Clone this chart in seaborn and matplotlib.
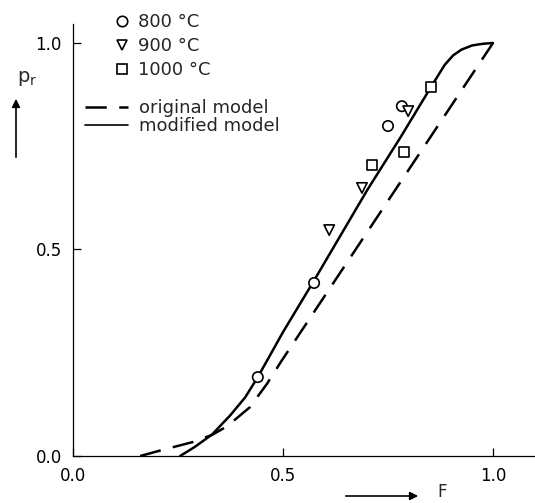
import matplotlib
matplotlib.use("Agg")
import matplotlib.pyplot as plt
from matplotlib.lines import Line2D
from matplotlib.patches import FancyArrowPatch
import pandas as pd
import seaborn as sns

# Measured fraction of pores removed (p_r) against filling fraction F
F_800 = [0.440, 0.574, 0.750, 0.783]
p_800 = [0.191, 0.419, 0.799, 0.847]
F_900 = [0.610, 0.688, 0.798]
p_900 = [0.547, 0.649, 0.835]
F_1000 = [0.712, 0.788, 0.852]
p_1000 = [0.705, 0.736, 0.893]

# Model curves
F_modified = [0.255, 0.290, 0.331, 0.374, 0.410, 0.440, 0.500, 0.574,
              0.700, 0.780, 0.852, 0.885, 0.905, 0.925, 0.950, 0.975, 1.000]
p_modified = [0.000, 0.022, 0.052, 0.098, 0.142, 0.191, 0.300, 0.425,
              0.643, 0.772, 0.893, 0.947, 0.970, 0.984, 0.994, 0.998, 1.000]
F_original = [0.160, 0.214, 0.286, 0.331, 0.367, 0.421, 0.462, 0.495,
              0.529, 1.000]
p_original = [0.000, 0.015, 0.034, 0.051, 0.072, 0.118, 0.175, 0.228,
              0.280, 1.000]

temperatures = ["800 °C", "900 °C", "1000 °C"]
markers = {"800 °C": "o", "900 °C": "v", "1000 °C": "s"}
models = ["original model", "modified model"]
x_ticks = [0.0, 0.5, 1.0]
y_ticks = [0.0, 0.5, 1.0]

sns.set_style("ticks")
plt.rcParams["font.family"] = ["DejaVu Sans"]

points = pd.DataFrame({
    "F": F_800 + F_900 + F_1000,
    "p": p_800 + p_900 + p_1000,
    "T": [temperatures[0]] * len(F_800) + [temperatures[1]] * len(F_900)
         + [temperatures[2]] * len(F_1000),
})

W, H = 535, 503
fig = plt.figure(figsize=(W / 100, H / 100), dpi=100)
ax = fig.add_axes([73 / W, 47 / H, 462 / W, 432 / H])

dash = (0, (8.5, 5))
sns.lineplot(x=F_original, y=p_original, ax=ax, sort=False, estimator=None,
             color="black", linewidth=1.8, linestyle=dash, zorder=2)
sns.lineplot(x=F_modified, y=p_modified, ax=ax, sort=False, estimator=None,
             color="black", linewidth=1.8, zorder=2)
sns.scatterplot(data=points, x="F", y="p", style="T", markers=markers,
                style_order=temperatures, ax=ax, s=56, color="white",
                edgecolor="black", linewidth=1.2, legend=False, zorder=3)

ax.set_xlim(0, 1.1)
ax.set_ylim(0, 1.046)
ax.set_xticks(x_ticks)
ax.set_yticks(y_ticks)
ax.set_xticklabels([f"{v:.1f}" for v in x_ticks])
ax.set_yticklabels([f"{v:.1f}" for v in y_ticks])
ax.tick_params(direction="in", length=6, width=0.9, pad=8, labelsize=12,
               colors="black")
ax.set_xlabel("")
ax.set_ylabel("")
sns.despine(ax=ax)
for side in ("left", "bottom"):
    ax.spines[side].set_linewidth(0.9)
    ax.spines[side].set_color("black")

# Legends: temperatures, then models
mk = dict(ls="none", mfc="white", mec="black", ms=7.5, mew=1.2)
temp_handles = [Line2D([], [], marker=markers[t], **mk) for t in temperatures]
leg1 = ax.legend(temp_handles, temperatures, loc="upper left",
                 bbox_to_anchor=(115 / W, 1 - 13 / H),
                 bbox_transform=fig.transFigure, frameon=False, fontsize=13,
                 borderpad=0, borderaxespad=0, handlelength=0.75,
                 handletextpad=0.5, labelspacing=0.33)
ax.add_artist(leg1)
model_handles = [Line2D([], [], color="black", lw=1.8, ls=dash),
                 Line2D([], [], color="black", lw=1.2)]
ax.legend(model_handles, models, loc="upper left",
          bbox_to_anchor=(85 / W, 1 - 99 / H),
          bbox_transform=fig.transFigure, frameon=False, fontsize=13,
          borderpad=0, borderaxespad=0, handlelength=2.4,
          handletextpad=0.6, labelspacing=0.0)

# Axis names with arrows
fig.text(17 / W, 1 - 78 / H, "p$_\\mathregular{r}$", fontsize=14,
         ha="left", va="center")
fig.add_artist(FancyArrowPatch(
    (16 / W, 1 - 160 / H), (16 / W, 1 - 96 / H), transform=fig.transFigure,
    arrowstyle="-|>", mutation_scale=12, color="black", lw=1.2))
fig.text(437 / W, 1 - 492 / H, "F", fontsize=12, ha="left", va="center")
fig.add_artist(FancyArrowPatch(
    (343 / W, 1 - 496 / H), (421 / W, 1 - 496 / H), transform=fig.transFigure,
    arrowstyle="-|>", mutation_scale=12, color="black", lw=1.2))

fig.savefig("out.png", dpi=100)
